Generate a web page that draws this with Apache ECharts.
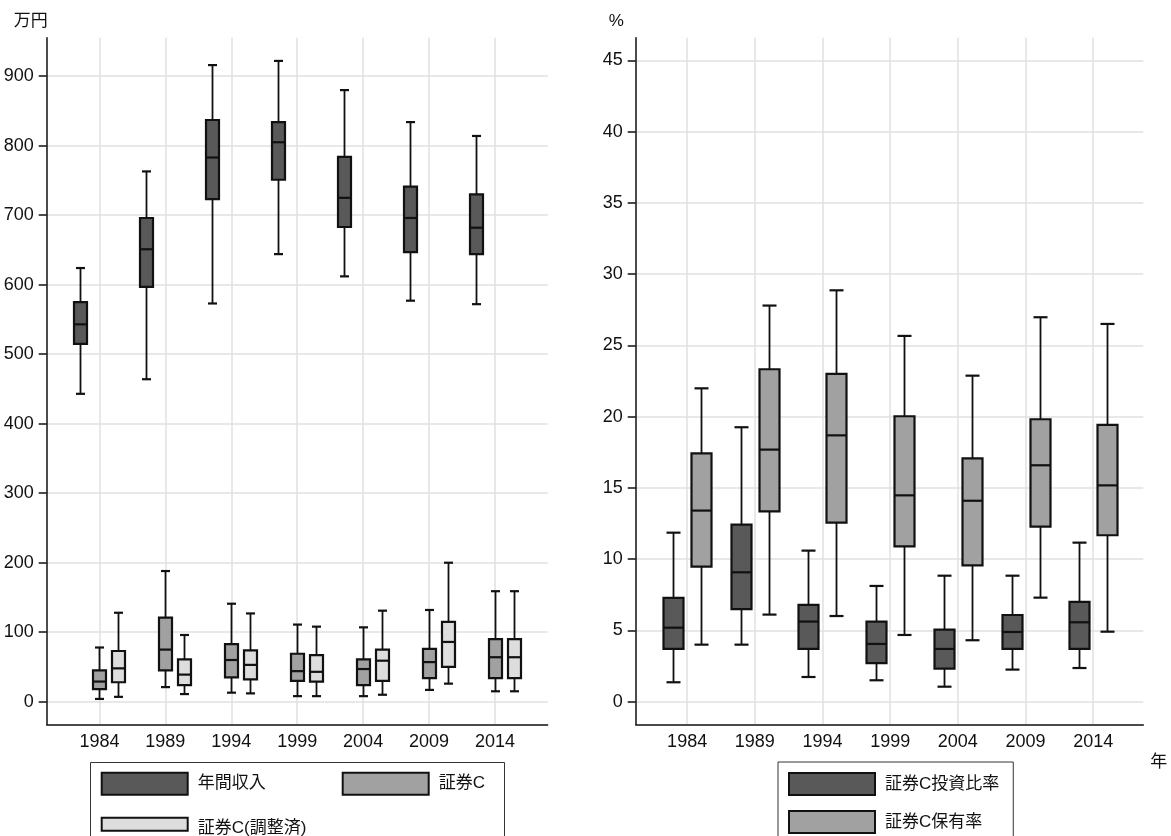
<!DOCTYPE html>
<html><head><meta charset="utf-8">
<script src="https://cdn.jsdelivr.net/npm/echarts@6/dist/echarts.min.js"></script>
<style>html,body{margin:0;padding:0;background:#fff}#c{width:1171px;height:836px}</style>
</head><body><div id="c"></div>
<script>
// ---- data ----
const years = [1984, 1989, 1994, 1999, 2004, 2009, 2014];
const yTicksLeft = [0, 100, 200, 300, 400, 500, 600, 700, 800, 900];
const yTicksRight = [0, 5, 10, 15, 20, 25, 30, 35, 40, 45];
// each: [lower whisker, Q1, median, Q3, upper whisker]
const income = [
  [443, 515, 543, 575, 624],
  [464, 597, 651, 696, 763],
  [573, 723, 783, 837, 916],
  [644, 751, 805, 834, 922],
  [612, 683, 725, 784, 880],
  [577, 647, 696, 741, 834],
  [572, 644, 682, 730, 814]
];
const securities = [
  [4, 18, 29, 45, 78],
  [21, 45, 75, 121, 188],
  [13, 35, 60, 83, 141],
  [8, 30, 44, 69, 111],
  [8, 24, 47, 61, 107],
  [17, 34, 57, 76, 132],
  [15, 34, 64, 90, 159]
];
const securitiesAdj = [
  [7, 28, 48, 73, 128],
  [11, 24, 39, 61, 96],
  [12, 32, 53, 74, 127],
  [8, 29, 43, 67, 108],
  [10, 30, 59, 75, 131],
  [26, 50, 86, 115, 200],
  [15, 34, 64, 90, 159]
];
const investRatio = [
  [1.36, 3.70, 5.19, 7.28, 11.86],
  [4.0, 6.50, 9.08, 12.42, 19.26],
  [1.73, 3.70, 5.62, 6.79, 10.6],
  [1.50, 2.71, 4.05, 5.62, 8.12],
  [1.05, 2.32, 3.70, 5.05, 8.84],
  [2.25, 3.70, 4.89, 6.08, 8.84],
  [2.36, 3.70, 5.57, 7.0, 11.16]
];
const holdRate = [
  [4.0, 9.48, 13.41, 17.43, 21.99],
  [6.11, 13.36, 17.69, 23.33, 27.8],
  [6.01, 12.56, 18.69, 23.0, 28.87],
  [4.68, 10.9, 14.48, 20.03, 25.67],
  [4.31, 9.57, 14.1, 17.08, 22.88],
  [7.30, 12.28, 16.59, 19.82, 26.98],
  [4.91, 11.68, 15.18, 19.42, 26.51]
];
const nameIncome = '年間収入';
const nameSec = '証券C';
const nameSecAdj = '証券C(調整済)';
const nameInvest = '証券C投資比率';
const nameHold = '証券C保有率';

// ---- style ----
const FONT = "'Liberation Sans', 'Noto Sans CJK JP', sans-serif";
const INK = '#111';
const DARK = '#595959', MID = '#a1a1a1', LIGHT = '#dddddd';
const GRIDC = '#e0e0e0';

function withYear(arr) { return arr.map((v, i) => [years[i]].concat(v)); }

function boxRenderer(offset, boxW, capW, fill) {
  return function (params, api) {
    const x = api.value(0);
    const pLo = api.coord([x, api.value(1)]);
    const pQ1 = api.coord([x, api.value(2)]);
    const pMd = api.coord([x, api.value(3)]);
    const pQ3 = api.coord([x, api.value(4)]);
    const pHi = api.coord([x, api.value(5)]);
    const cx = Math.round(pLo[0] + offset) + 0.5;
    const wl = { stroke: INK, lineWidth: 1.8 };
    const cl = { stroke: INK, lineWidth: 2.2 };
    return {
      type: 'group',
      children: [
        { type: 'line', shape: { x1: cx, y1: pHi[1], x2: cx, y2: pQ3[1] }, style: wl },
        { type: 'line', shape: { x1: cx, y1: pQ1[1], x2: cx, y2: pLo[1] }, style: wl },
        { type: 'line', shape: { x1: cx - capW / 2, y1: pHi[1], x2: cx + capW / 2, y2: pHi[1] }, style: cl },
        { type: 'line', shape: { x1: cx - capW / 2, y1: pLo[1], x2: cx + capW / 2, y2: pLo[1] }, style: cl },
        { type: 'rect', shape: { x: cx - boxW / 2, y: pQ3[1], width: boxW, height: pQ1[1] - pQ3[1] },
          style: { fill: fill, stroke: INK, lineWidth: 2.2 } },
        { type: 'line', shape: { x1: cx - boxW / 2, y1: pMd[1], x2: cx + boxW / 2, y2: pMd[1] }, style: cl }
      ]
    };
  };
}

function xAxisCfg(gridIndex, min, max, name) {
  return {
    type: 'value', gridIndex: gridIndex, min: min, max: max,
    name: name || '', nameLocation: 'end', nameGap: 7,
    nameTextStyle: { fontFamily: FONT, fontSize: 17, color: INK, verticalAlign: 'top', padding: [30, 0, 0, 0] },
    axisLine: { show: true, onZero: false, lineStyle: { color: INK, width: 1.5 } },
    axisTick: { show: true, length: 0, customValues: years },
    axisLabel: { customValues: years, margin: 9, fontFamily: FONT, fontSize: 18, color: INK, formatter: v => String(v) },
    splitLine: { show: true, lineStyle: { color: GRIDC, width: 1.5 } },
    minorTick: { show: false }, minorSplitLine: { show: false }
  };
}
function yAxisCfg(gridIndex, min, max, ticks, name, namePad) {
  return {
    type: 'value', gridIndex: gridIndex, min: min, max: max,
    name: name, nameLocation: 'end', nameGap: 8,
    nameTextStyle: { fontFamily: FONT, fontSize: 17, color: INK, align: 'center', padding: [0, namePad, 0, 0] },
    axisLine: { show: true, onZero: false, lineStyle: { color: INK, width: 1.5 } },
    axisTick: { show: true, length: 8, inside: false, customValues: ticks, lineStyle: { color: INK, width: 1.5 } },
    axisLabel: { customValues: ticks, margin: 13, fontFamily: FONT, fontSize: 18, color: INK },
    splitLine: { show: true, lineStyle: { color: GRIDC, width: 1.5 } }
  };
}

const legendText = { fontFamily: FONT, fontSize: 17, color: INK, padding: [0, 0, 0, 5] };
function legendBase(extra) {
  return Object.assign({
    itemWidth: 86, itemHeight: 22, selectedMode: false, textStyle: legendText,
    backgroundColor: 'transparent', borderWidth: 0
  }, extra);
}

const option = {
  backgroundColor: '#fff',
  animation: false,
  graphic: [
    { type: 'rect', silent: true, z: 0, shape: { x: 90.5, y: 762.5, width: 414, height: 100 },
      style: { fill: '#fff', stroke: '#333', lineWidth: 1 } }
  ],
  grid: [
    { left: 46.7, top: 37.7, width: 501, height: 686.6, outerBoundsMode: 'none', containLabel: false },
    { left: 635.7, top: 37.7, width: 507.6, height: 686.6, outerBoundsMode: 'none', containLabel: false }
  ],
  xAxis: [
    xAxisCfg(0, 1980, 2018),
    xAxisCfg(1, 1980.2, 2017.7, '年')
  ],
  yAxis: [
    yAxisCfg(0, -32.5, 955.4, yTicksLeft, '万円', 32),
    yAxisCfg(1, -1.59, 46.6, yTicksRight, '%', 39)
  ],
  legend: [
    legendBase({
      left: 100.7, top: 771.7, orient: 'horizontal', padding: 0, itemGap: 76,
      data: [
        { name: nameIncome, icon: 'rect', itemStyle: { color: DARK, borderColor: INK, borderWidth: 2 } },
        { name: nameSec, icon: 'rect', itemStyle: { color: MID, borderColor: INK, borderWidth: 2 } }
      ]
    }),
    legendBase({
      left: 100.7, top: 816.7, orient: 'horizontal', padding: 0, itemGap: 10,
      data: [
        { name: nameSecAdj, icon: 'path://M0,0H86V13H0Z M0,22', itemStyle: { color: LIGHT, borderColor: INK, borderWidth: 2 } }
      ]
    }),
    legendBase({
      left: 778, top: 762, orient: 'vertical', height: 120,
      padding: [10, 14, 10, 10], itemGap: 14,
      borderColor: '#333', borderWidth: 1, backgroundColor: '#fff',
      data: [
        { name: nameInvest, icon: 'rect', itemStyle: { color: DARK, borderColor: INK, borderWidth: 2 } },
        { name: nameHold, icon: 'rect', itemStyle: { color: MID, borderColor: INK, borderWidth: 2 } }
      ]
    })
  ],
  series: [
    { type: 'custom', name: nameIncome, xAxisIndex: 0, yAxisIndex: 0, data: withYear(income),
      encode: { x: 0, y: [1, 2, 3, 4, 5] }, itemStyle: { color: DARK }, renderItem: boxRenderer(-19, 13, 9, DARK) },
    { type: 'custom', name: nameSec, xAxisIndex: 0, yAxisIndex: 0, data: withYear(securities),
      encode: { x: 0, y: [1, 2, 3, 4, 5] }, itemStyle: { color: MID }, renderItem: boxRenderer(0, 13, 9, MID) },
    { type: 'custom', name: nameSecAdj, xAxisIndex: 0, yAxisIndex: 0, data: withYear(securitiesAdj),
      encode: { x: 0, y: [1, 2, 3, 4, 5] }, itemStyle: { color: LIGHT }, renderItem: boxRenderer(19, 13, 9, LIGHT) },
    { type: 'custom', name: nameInvest, xAxisIndex: 1, yAxisIndex: 1, data: withYear(investRatio),
      encode: { x: 0, y: [1, 2, 3, 4, 5] }, itemStyle: { color: DARK }, renderItem: boxRenderer(-14, 20, 14, DARK) },
    { type: 'custom', name: nameHold, xAxisIndex: 1, yAxisIndex: 1, data: withYear(holdRate),
      encode: { x: 0, y: [1, 2, 3, 4, 5] }, itemStyle: { color: MID }, renderItem: boxRenderer(14, 20, 14, MID) }
  ]
};

const chart = echarts.init(document.getElementById('c'), null, { renderer: 'canvas' });
chart.setOption(option);
</script>
</body></html>
